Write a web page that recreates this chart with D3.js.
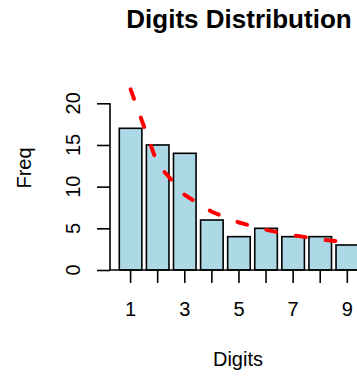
<!DOCTYPE html>
<html><head><meta charset="utf-8">
<script src="https://cdn.jsdelivr.net/npm/d3@7"></script>
<style>body{margin:0;background:#fff}svg{display:block}text{font-family:"Liberation Sans",Arial,sans-serif}</style>
</head><body>
<svg id="c" width="357" height="377"></svg>
<script>
const digits = [1,2,3,4,5,6,7,8,9];
const freq = [17,15,14,6,4,5,4,4,3];
const expected = [21.67,12.68,9.00,6.98,5.70,4.82,4.17,3.68,3.30];
const yTicks = [0,5,10,15,20];
const xTickLabels = ["1","","3","","5","","7","","9"];
const title = "Digits Distribution", xLab = "Digits", yLab = "Freq";

const svg = d3.select("#c");
const x = d3.scaleBand().domain(digits).range([119.3, 358.6]).paddingInner(0.2/1.2).paddingOuter(0);
const y = d3.scaleLinear().domain([0,20]).range([270,103.3]);
const cx = d => x(d) + x.bandwidth()/2;

// bars
svg.selectAll("rect.bar").data(digits).join("rect")
  .attr("x", d => x(d)).attr("width", x.bandwidth())
  .attr("y", (d,i) => y(freq[i])).attr("height", (d,i) => y(0)-y(freq[i]))
  .attr("fill","#ADD8E6").attr("stroke","#000").attr("stroke-width",1.6);

// baseline
svg.append("line").attr("x1",110).attr("x2",357).attr("y1",y(0)).attr("y2",y(0))
  .attr("stroke","#000").attr("stroke-width",1.6);

// y axis
const ya = svg.append("g").attr("transform","translate(110,0)")
  .call(d3.axisLeft(y).tickValues(yTicks).tickSize(13).tickFormat(""));
ya.select(".domain").attr("d",`M-0,${y(0)}V${y(20)}`).attr("stroke-width",1.6);
ya.selectAll(".tick line").attr("stroke-width",1.6);
svg.selectAll("text.yt").data(yTicks).join("text").attr("class","yt")
  .attr("transform", d => `translate(80,${y(d)}) rotate(-90)`)
  .attr("text-anchor","middle").attr("font-size",20).text(d => d);

// x axis ticks
const xa = svg.append("g").attr("transform",`translate(0,${y(0)})`)
  .call(d3.axisBottom(x).tickSize(13).tickFormat(""));
xa.select(".domain").remove();
xa.selectAll(".tick line").attr("stroke-width",1.6);
svg.selectAll("text.xt").data(digits).join("text").attr("class","xt")
  .attr("x", d => cx(d)).attr("y",316).attr("text-anchor","middle")
  .attr("font-size",20).text((d,i) => xTickLabels[i]);

// expected line
const line = d3.line().x(d => cx(d)).y((d,i) => y(expected[i]));
svg.append("path").datum(digits).attr("d",line).attr("fill","none")
  .attr("stroke","#FF0000").attr("stroke-width",4).attr("stroke-linecap","round")
  .attr("stroke-dasharray","10,20");

// titles
svg.append("text").attr("x",239).attr("y",28).attr("text-anchor","middle")
  .attr("font-size",26).attr("font-weight","bold").text(title);
svg.append("text").attr("x",238).attr("y",366).attr("text-anchor","middle")
  .attr("font-size",20).text(xLab);
svg.append("text").attr("transform","translate(31,168) rotate(-90)")
  .attr("text-anchor","middle").attr("font-size",20).text(yLab);
</script>
</body></html>
